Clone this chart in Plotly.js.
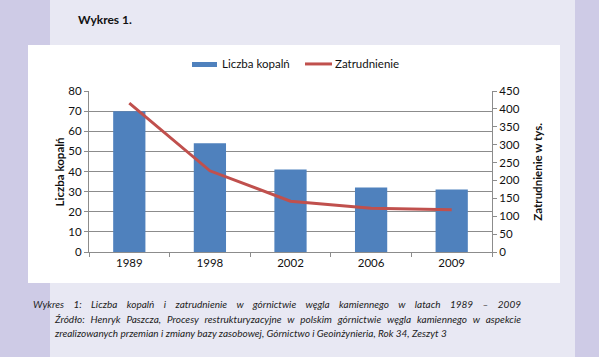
<!DOCTYPE html>
<html><head><meta charset="utf-8">
<script src="https://cdn.plot.ly/plotly-3.0.1.min.js"></script>
<style>
html,body{margin:0;padding:0;width:599px;height:357px;overflow:hidden;background:#e8e8f3;font-family:Lato,"Open Sans",sans-serif;}
#ls{position:absolute;left:0;top:0;width:50px;height:357px;background:#cecbe6;}
#rs{position:absolute;left:575px;top:0;width:24px;height:357px;background:#cecbe6;}
#title{position:absolute;left:78px;top:12px;font-weight:bold;font-size:12px;color:#111;}
#chart{position:absolute;left:28px;top:45px;width:532px;height:238px;background:#fff;}
.cap{position:absolute;font-style:italic;font-size:10px;color:#222;text-align:justify;text-align-last:justify;white-space:nowrap;}
</style></head><body>
<div id="ls"></div><div id="rs"></div>
<div id="title">Wykres 1.</div>
<div id="chart"></div>
<div class="cap" style="left:33px;top:298px;width:488px;">Wykres 1: Liczba kopalń i zatrudnienie w górnictwie węgla kamiennego w latach 1989 – 2009</div>
<div class="cap" style="left:55px;top:313px;width:466px;">Źródło: Henryk Paszcza, Procesy restrukturyzacyjne w polskim górnictwie węgla kamiennego w aspekcie</div>
<div class="cap" style="left:55px;top:327px;text-align-last:left;">zrealizowanych przemian i zmiany bazy zasobowej, Górnictwo i Geoinżynieria, Rok 34, Zeszyt 3</div>
<script>
const years = ['1989','1998','2002','2006','2009'];
const mines = [70, 54, 41, 32, 31];
const employment = [416, 227, 142, 122, 118];
const leftTicks = [0,10,20,30,40,50,60,70,80];
const rightTicks = [0,50,100,150,200,250,300,350,400,450];
const barName = 'Liczba kopalń';
const lineName = 'Zatrudnienie';
const leftTitle = 'Liczba kopalń';
const rightTitle = 'Zatrudnienie w tys.';

const barColor = '#4f81bd', lineColor = '#c0504d';
const font = {family:'Lato, "Open Sans", sans-serif', size:11, color:'#111'};
const data = [
  {type:'bar', x:years, y:mines, name:barName, marker:{color:barColor}, yaxis:'y', showlegend:false},
  {type:'scatter', mode:'lines', x:years, y:employment, name:lineName, line:{color:lineColor, width:3}, yaxis:'y2', showlegend:false}
];
const layout = {
  width:532, height:238,
  margin:{l:61, r:68, t:46, b:31},
  paper_bgcolor:'#ffffff', plot_bgcolor:'#ffffff',
  font: font,
  bargap:0.6,
  showlegend:false,
  xaxis:{type:'category', automargin:false, showline:true, linecolor:'#8c8c8c', linewidth:1, ticks:'outside', tickson:'boundaries', ticklen:4, tickcolor:'#8c8c8c', showgrid:false, tickfont:{size:11.5}, zeroline:false},
  yaxis:{range:[0,80], automargin:false, tickvals:leftTicks, showline:true, linecolor:'#8c8c8c', ticks:'outside', ticklen:4, tickcolor:'#8c8c8c', gridcolor:'#8c8c8c', gridwidth:1, zeroline:false, tickfont:{size:11.5}},
  yaxis2:{range:[0,450], automargin:false, tickvals:rightTicks, overlaying:'y', side:'right', showline:true, linecolor:'#8c8c8c', ticks:'outside', ticklen:4, tickcolor:'#8c8c8c', showgrid:false, zeroline:false, tickfont:{size:11.5}},
  shapes:[
    {type:'rect', xref:'paper', yref:'paper', x0:0.2556, x1:0.3176, y0:1.149, y1:1.180, fillcolor:barColor, line:{width:0}},
    {type:'line', xref:'paper', yref:'paper', x0:0.536, x1:0.603, y0:1.168, y1:1.168, line:{color:lineColor, width:3}}
  ],
  annotations:[
    {xref:'paper', yref:'paper', x:0.325, y:1.168, xanchor:'left', yanchor:'middle', text:barName, showarrow:false, font:{size:11.5}},
    {xref:'paper', yref:'paper', x:0.605, y:1.168, xanchor:'left', yanchor:'middle', text:lineName, showarrow:false, font:{size:11.5}},
    {xref:'paper', yref:'paper', x:-0.072, y:0.5, xanchor:'center', yanchor:'middle', textangle:-90, text:'<b>'+leftTitle+'</b>', showarrow:false, font:{size:11.5}},
    {xref:'paper', yref:'paper', x:1.112, y:0.5, xanchor:'center', yanchor:'middle', textangle:-90, text:'<b>'+rightTitle+'</b>', showarrow:false, font:{size:11.5}}
  ]
};
Plotly.newPlot('chart', data, layout, {displayModeBar:false, staticPlot:true});
</script>
</body></html>
